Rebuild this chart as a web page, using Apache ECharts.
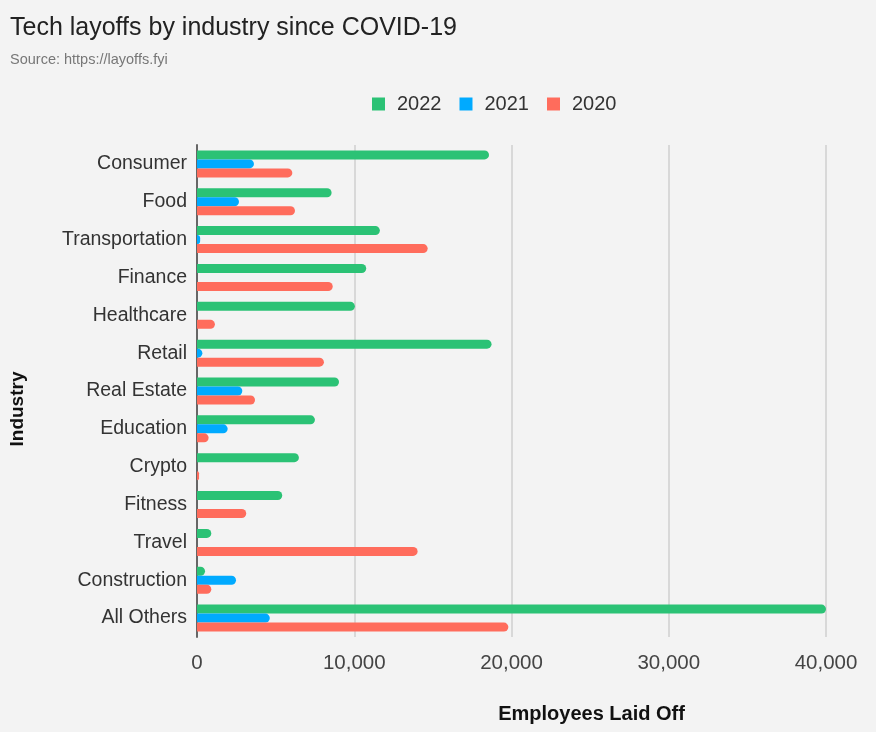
<!DOCTYPE html>
<html>
<head>
<meta charset="utf-8">
<script src="https://cdn.jsdelivr.net/npm/echarts@6/dist/echarts.min.js"></script>
<style>
  html, body { margin: 0; padding: 0; background: #f3f3f3; }
  #main { width: 876px; height: 732px; }
</style>
</head>
<body>
<div id="main"></div>
<script>
'use strict'
// industries, top to bottom
var industries = ['Consumer', 'Food', 'Transportation', 'Finance', 'Healthcare', 'Retail',
    'Real Estate', 'Education', 'Crypto', 'Fitness', 'Travel', 'Construction', 'All Others'];

// employees laid off
var layoffs2022 = [18570, 8560, 11630, 10760, 10040, 18730, 9030, 7500, 6480, 5420, 910, 510, 40000];
var layoffs2021 = [3620, 2670, 200, 0, 0, 340, 2880, 1950, 0, 0, 0, 2480, 4630];
var layoffs2020 = [6060, 6230, 14670, 8630, 1140, 8070, 3690, 740, 130, 3130, 14030, 910, 19800];

var xTicks = [0, 10000, 20000, 30000, 40000];

var colors = ['#2bc275', '#00aaff', '#ff6c5c'];
var font = 'Liberation Sans, Arial, sans-serif';

var barStyle = { borderRadius: [0, 5, 5, 0] };

var option = {
    backgroundColor: '#f3f3f3',
    color: colors,
    textStyle: { fontFamily: font },
    title: {
        text: 'Tech layoffs by industry since COVID-19',
        subtext: 'Source: https://layoffs.fyi',
        left: 5,
        top: 11,
        itemGap: 11,
        textStyle: { fontFamily: font, fontSize: 25, fontWeight: 'normal', color: '#222' },
        subtextStyle: { fontFamily: font, fontSize: 14.5, color: '#777' }
    },
    legend: {
        data: ['2022', '2021', '2020'],
        top: 89,
        left: 367,
        icon: 'rect',
        itemWidth: 13,
        itemHeight: 13,
        itemGap: 18,
        textStyle: { fontFamily: font, fontSize: 20, color: '#333', padding: [0, 0, 0, 7] }
    },
    grid: {
        left: 197,
        right: 50,
        top: 145,
        bottom: 95
    },
    xAxis: {
        type: 'value',
        min: xTicks[0],
        max: xTicks[xTicks.length - 1],
        interval: 10000,
        name: 'Employees Laid Off',
        nameLocation: 'middle',
        nameGap: 67,
        nameTextStyle: { fontFamily: font, fontSize: 20, fontWeight: 'bold', color: '#111', padding: [0, 0, 0, 160] },
        axisLine: { show: false },
        axisTick: { show: false },
        axisLabel: {
            fontFamily: font, fontSize: 20.5, color: '#444', margin: 16,
            formatter: function (v) { return v.toLocaleString('en-US'); }
        },
        splitLine: { lineStyle: { color: '#cfcfcf', width: 1.5 } }
    },
    yAxis: {
        type: 'category',
        data: industries,
        inverse: true,
        name: 'Industry',
        nameLocation: 'middle',
        nameGap: 170,
        nameTextStyle: { fontFamily: font, fontSize: 19, fontWeight: 'bold', color: '#111', padding: [0, 36, 0, 0] },
        axisLine: { lineStyle: { color: '#666', width: 2 } },
        axisTick: { show: false },
        axisLabel: { fontFamily: font, fontSize: 19.5, color: '#333', margin: 10 }
    },
    series: [
        {
            name: '2022',
            type: 'bar',
            data: layoffs2022,
            barWidth: 9,
            barGap: '0%',
            itemStyle: barStyle
        },
        {
            name: '2021',
            type: 'bar',
            data: layoffs2021,
            barWidth: 9,
            barGap: '0%',
            itemStyle: barStyle
        },
        {
            name: '2020',
            type: 'bar',
            data: layoffs2020,
            barWidth: 9,
            barGap: '0%',
            itemStyle: barStyle
        }
    ]
};

var myChart = echarts.init(document.getElementById('main'));
myChart.setOption(option);
</script>
</body>
</html>
